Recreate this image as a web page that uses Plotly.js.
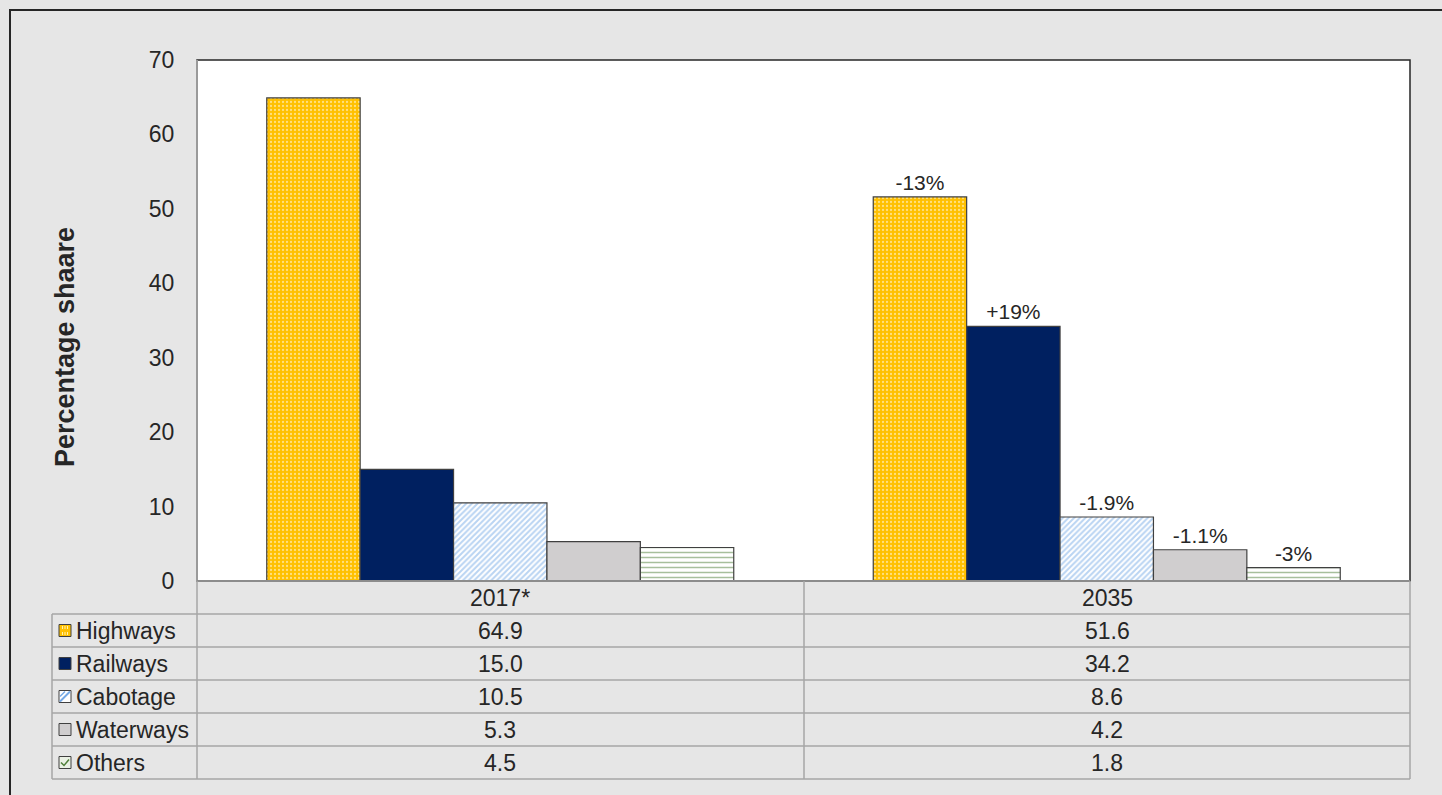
<!DOCTYPE html>
<html>
<head>
<meta charset="utf-8">
<script src="https://cdn.plot.ly/plotly-3.0.1.min.js"></script>
<style>
  html, body { margin: 0; padding: 0; background: #E6E6E6; }
  #chart { width: 1442px; height: 795px; }
</style>
</head>
<body>
<div id="chart"></div>
<script>
// ---- Data ----
const categories = ['2017*', '2035'];
const seriesNames = ['Highways', 'Railways', 'Cabotage', 'Waterways', 'Others'];
const highways = [64.9, 51.6];
const railways = [15.0, 34.2];
const cabotage = [10.5, 8.6];
const waterways = [5.3, 4.2];
const others = [4.5, 1.8];
const highwaysChange = ['', '-13%'];
const railwaysChange = ['', '+19%'];
const cabotageChange = ['', '-1.9%'];
const waterwaysChange = ['', '-1.1%'];
const othersChange = ['', '-3%'];
const yTickValues = [0, 10, 20, 30, 40, 50, 60, 70];
const yTitle = 'Percentage shaare';

// ---- Styles ----
const FONT = '"Liberation Sans", Arial, sans-serif';
const TXT = '#262626';
const GRID = '#A6A6A6';
const OUTLINE = {color: '#404040', width: 1.2};

const values = [highways, railways, cabotage, waterways, others];
const changes = [highwaysChange, railwaysChange, cabotageChange, waterwaysChange, othersChange];
const markers = [
  {color: '#FFC000', line: OUTLINE, pattern: {shape: '.', bgcolor: '#FFC000', fgcolor: '#FFFFFF', size: 4, solidity: 0.25, fillmode: 'overlay'}},
  {color: '#002060', line: OUTLINE},
  {color: '#FFFFFF', line: OUTLINE, pattern: {shape: '/', bgcolor: '#FFFFFF', fgcolor: '#74A9E6', size: 4, solidity: 0.5, fillmode: 'overlay'}},
  {color: '#D0CECF', line: OUTLINE},
  {color: '#FFFFFF', line: OUTLINE, pattern: {shape: '-', bgcolor: '#FFFFFF', fgcolor: '#4F7F3A', size: 5, solidity: 0.3, fillmode: 'overlay'}}
];

const traces = seriesNames.map((n, i) => ({
  type: 'bar',
  name: n,
  x: categories,
  y: values[i],
  marker: markers[i],
  text: changes[i],
  textposition: 'outside',
  constraintext: 'none',
  cliponaxis: false,
  textfont: {family: FONT, size: 21, color: TXT},
  hoverinfo: 'skip'
}));

// ---- Geometry helpers (pixel -> paper) ----
const L = 197, R = 1410, T = 60, B = 581;
const px = x => (x - L) / (R - L);
const py = y => (B - y) / (B - T);

const shapes = [];
const annotations = [];

// outer frame (top and left visible)
shapes.push({type: 'rect', xref: 'paper', yref: 'paper', x0: px(10), x1: px(1460), y0: py(10), y1: py(820),
  line: {color: '#262626', width: 2}, fillcolor: 'rgba(0,0,0,0)', layer: 'below'});

// plot border
shapes.push({type: 'rect', xref: 'paper', yref: 'paper', x0: 0, x1: 1, y0: 0, y1: 1,
  line: {color: '#262626', width: 1.5}, fillcolor: 'rgba(0,0,0,0)'});
shapes.push({type: 'line', xref: 'paper', yref: 'paper', x0: 0, x1: 0, y0: 0, y1: 1, line: {color: '#9A9A9A', width: 2}});

// table
const rowLines = [581, 614, 647, 680, 713, 746, 779];
const tableLeft = 52;
rowLines.forEach((y, k) => {
  shapes.push({type: 'line', xref: 'paper', yref: 'paper', x0: px(k === 0 ? L : tableLeft), x1: 1, y0: py(y), y1: py(y),
    line: {color: k === 0 ? '#8C8C8C' : GRID, width: k === 0 ? 2 : 1.5}});
});
shapes.push({type: 'line', xref: 'paper', yref: 'paper', x0: px(tableLeft), x1: px(tableLeft), y0: py(614), y1: py(779), line: {color: GRID, width: 1.5}});
shapes.push({type: 'line', xref: 'paper', yref: 'paper', x0: 0, x1: 0, y0: py(581), y1: py(779), line: {color: GRID, width: 1.5}});
shapes.push({type: 'line', xref: 'paper', yref: 'paper', x0: px(804), x1: px(804), y0: py(581), y1: py(779), line: {color: GRID, width: 1.5}});
shapes.push({type: 'line', xref: 'paper', yref: 'paper', x0: 1, x1: 1, y0: py(581), y1: py(779), line: {color: GRID, width: 1.5}});

const colCenters = [500.5, 1107];
categories.forEach((c, j) => {
  annotations.push({xref: 'paper', yref: 'paper', x: px(colCenters[j]), y: py(597.5), text: c, showarrow: false,
    xanchor: 'center', yanchor: 'middle', font: {family: FONT, size: 23, color: TXT}});
});
seriesNames.forEach((n, i) => {
  const top = rowLines[i + 1], bot = rowLines[i + 2];
  const cy = (top + bot) / 2;
  annotations.push({xref: 'paper', yref: 'paper', x: px(74), y: py(cy), text: n, showarrow: false,
    xanchor: 'left', yanchor: 'middle', font: {family: FONT, size: 23, color: TXT}});
  values[i].forEach((v, j) => {
    annotations.push({xref: 'paper', yref: 'paper', x: px(colCenters[j]), y: py(cy), text: v.toFixed(1), showarrow: false,
      xanchor: 'center', yanchor: 'middle', font: {family: FONT, size: 23, color: TXT}});
  });
  // legend key
  const m = markers[i];
  const kx0 = 59, kx1 = 71, ky0 = cy - 6, ky1 = cy + 6;
  let fill = m.color;
  if (i === 4) fill = '#EAF1E4';
  shapes.push({type: 'rect', xref: 'paper', yref: 'paper', x0: px(kx0), x1: px(kx1), y0: py(ky0), y1: py(ky1),
    line: {color: '#404040', width: 1}, fillcolor: fill});
  if (i === 0) {
    [62.5, 65, 67.5].forEach(xx => shapes.push({type: 'line', xref: 'paper', yref: 'paper', x0: px(xx), x1: px(xx), y0: py(ky0 + 1.5), y1: py(ky1 - 1.5),
      line: {color: '#FFF2B0', width: 1, dash: 'dot'}}));
  }
  if (i === 2) {
    shapes.push({type: 'line', xref: 'paper', yref: 'paper', x0: px(kx0 + 1), x1: px(kx1 - 1), y0: py(ky1 - 1), y1: py(ky0 + 1), line: {color: '#74A9E6', width: 2}});
    shapes.push({type: 'line', xref: 'paper', yref: 'paper', x0: px(kx0 + 1), x1: px(kx0 + 6), y0: py(ky0 + 6), y1: py(ky0 + 1), line: {color: '#74A9E6', width: 1.5}});
  }
  if (i === 4) {
    shapes.push({type: 'path', xref: 'paper', yref: 'paper',
      path: `M ${px(kx0 + 2)} ${py(cy)} L ${px(kx0 + 5)} ${py(cy + 3)} L ${px(kx1 - 2)} ${py(cy - 3)}`,
      line: {color: '#4F7F3A', width: 1.5}});
  }
});

// y-axis title
annotations.push({xref: 'paper', yref: 'paper', x: px(65), y: py(347), text: '<b>' + yTitle + '</b>', textangle: -90,
  showarrow: false, xanchor: 'center', yanchor: 'middle', font: {family: FONT, size: 27, color: TXT}});

const layout = {
  width: 1442, height: 795,
  margin: {l: L, r: 1442 - R, t: T, b: 795 - B, pad: 0},
  paper_bgcolor: '#E6E6E6',
  plot_bgcolor: '#FFFFFF',
  barmode: 'group',
  bargap: 0.23,
  bargroupgap: 0,
  showlegend: false,
  font: {family: FONT, color: TXT},
  xaxis: {type: 'category', showticklabels: false, ticks: '', showgrid: false, zeroline: false, showline: false, fixedrange: true},
  yaxis: {range: [0, 70], tickvals: yTickValues, ticks: 'outside', ticklen: 17, tickcolor: 'rgba(0,0,0,0)',
    showgrid: false, zeroline: false, showline: false, tickfont: {family: FONT, size: 23, color: TXT}, fixedrange: true},
  shapes: shapes,
  annotations: annotations
};

Plotly.newPlot('chart', traces, layout, {displayModeBar: false, staticPlot: true});
</script>
</body>
</html>
